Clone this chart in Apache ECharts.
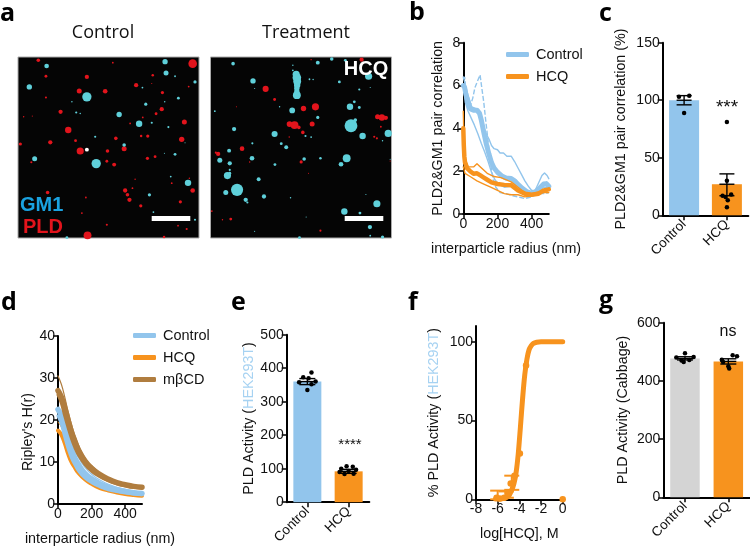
<!DOCTYPE html>
<html><head><meta charset="utf-8">
<style>html,body{margin:0;padding:0;background:#fff}#c{width:750px;height:547px}</style>
<script src="https://cdn.jsdelivr.net/npm/echarts@6/dist/echarts.min.js"></script>
</head><body><div id="c"></div>
<script>
// ---------- panel a : spots [x, y, diameter]
const ctrlRed=[[578,190,24],[114,180,10],[137,228,8],[260,230,12],[237,272,14],[315,273,13],[408,255,12],[458,225,7],[137,292,6],[487,277,9],[566,259,5],[181,335,12],[485,327,12],[204,390,18],[468,341,8],[553,366,14],[390,370,5],[428,352,5],[347,415,10],[150,427,12],[226,422,8],[60,432,9],[423,408,7],[443,408,9],[545,418,15],[240,453,20],[372,446,14],[322,453,10],[465,470,8],[442,475,9],[320,484,8],[342,494,11],[93,487,6],[375,572,12],[382,585,10],[388,600,12],[397,565,5],[578,572,13],[422,618,9],[541,606,9],[142,578,10],[257,593,5],[262,707,22],[560,688,6],[534,678,5],[320,675,6],[245,640,5],[515,550,5],[492,712,7],[405,538,4],[568,535,4],[70,350,4],[96,348,3],[338,187,5],[455,250,3]];
const ctrlCyan=[[139,197,13],[87,260,15],[495,184,15],[498,218,14],[585,245,9],[260,290,26],[437,312,9],[535,294,8],[228,337,6],[357,343,15],[417,371,18],[455,368,6],[505,381,6],[285,410,6],[372,435,10],[103,476,14],[525,463,8],[288,491,26],[564,549,18],[448,585,9],[512,530,5],[460,637,5],[200,714,8],[494,305,4],[427,262,5],[525,228,5],[555,428,3],[493,460,3],[240,340,4],[215,305,4],[585,660,6]];
const ctrlWhite=[[260,449,11]];
const treatCyan=[[700,190,10],[955,187,11],[997,176,10],[1038,180,8],[760,242,15],[1108,228,20],[1020,245,8],[880,195,4],[880,210,5],[930,237,5],[941,238,4],[1080,268,6],[765,265,3],[1113,262,3],[890,222,20],[892,232,24],[893,243,22],[893,254,18],[892,264,15],[892,274,15],[892,285,22],[1052,320,18],[1065,305,8],[1080,322,8],[878,331,16],[955,352,9],[645,333,5],[840,320,4],[1055,377,36],[1068,360,10],[703,387,12],[1090,408,18],[1167,400,20],[825,402,17],[918,408,6],[935,411,5],[758,430,6],[845,431,8],[860,442,11],[688,452,11],[757,475,13],[660,481,14],[690,490,12],[690,510,6],[826,494,8],[914,477,10],[963,475,7],[1042,475,22],[1025,493,13],[683,527,20],[690,520,8],[777,538,11],[712,570,34],[678,578,14],[738,600,12],[743,608,6],[793,590,12],[873,594,4],[1133,612,20],[1035,635,18],[1082,640,8],[1112,682,12],[1150,712,9],[900,714,8],[1113,708,5],[765,695,3],[920,652,3],[1100,584,3],[1150,422,4],[1173,478,3]];
const treatRed=[[798,266,17],[825,298,8],[912,325,15],[948,320,20],[885,375,22],[870,372,16],[898,382,10],[938,372,14],[910,397,10],[869,411,4],[727,446,13],[655,462,12],[648,458,6],[905,486,9],[750,486,4],[693,658,8],[668,660,4],[636,634,5],[963,693,6],[1148,352,18],[1135,350,14],[1160,353,12],[1125,410,6],[1133,415,6],[1145,380,5],[1087,178,12],[935,178,4],[710,320,3],[927,520,3],[1173,483,3]];
// ---------- panel b : pair correlation
const bCtrlMean=[[0,6],[8,5.9],[15,5.6],[25,5.3],[35,5.0],[45,4.9],[60,4.85],[80,4.85],[95,4.7],[105,4.4],[120,3.8],[135,3.25],[150,2.8],[165,2.4],[180,2.15],[200,1.95],[225,1.78],[250,1.68],[280,1.66],[300,1.55],[320,1.38],[345,1.2],[370,1.05],[395,0.98],[420,1.02],[445,1.2],[470,1.4],[485,1.42],[500,1.3]];
const bCtrlDash=[[0,6.3],[8,6.4],[15,5.8],[28,5.4],[42,5.1],[55,5.4],[68,5.9],[85,6.25],[98,6.5],[108,5.9],[120,5.2],[132,4.3],[142,3.6],[152,2.9],[162,2.2],[175,1.6],[190,1.25],[215,1.0],[250,0.95],[290,0.85],[330,0.78],[360,0.72],[390,0.78],[420,0.88],[450,0.95],[480,0.95],[500,1.0]];
const bCtrlUp=[[0,6.4],[10,6.1],[25,5.6],[50,5.0],[80,4.9],[110,4.4],[130,3.8],[150,3.5],[165,3.2],[180,3.05],[200,3.0],[215,2.85],[235,2.85],[255,2.7],[280,2.7],[300,2.45],[320,2.15],[340,1.85],[360,1.55],[380,1.3],[400,1.1],[420,1.1],[440,1.45],[460,1.8],[475,1.92],[490,1.8],[500,1.65]];
const bCtrlLow=[[0,6.0],[12,5.2],[28,4.8],[45,4.5],[65,4.15],[85,3.75],[105,3.3],[125,2.9],[145,2.45],[165,1.95],[185,1.6],[205,1.4],[240,1.25],[280,1.3],[320,1.15],[360,1.0],[400,0.95],[440,1.1],[470,1.25],[500,1.25]];
const bHcqMean=[[0,4.0],[3,3.2],[6,2.7],[10,2.4],[20,2.15],[40,2.0],[60,1.88],[80,1.9],[100,1.8],[120,1.7],[140,1.6],[165,1.48],[200,1.4],[240,1.36],[280,1.34],[320,1.1],[360,0.95],[400,0.9],[440,0.95],[470,1.1],[500,1.15]];
const bHcqUp=[[0,4.8],[4,3.4],[10,2.6],[30,2.2],[60,2.2],[80,2.35],[100,2.2],[140,1.9],[180,1.75],[220,1.7],[280,1.5],[320,1.25],[360,1.0],[400,0.95],[450,1.05],[500,1.2]];
const bHcqLow=[[0,2.2],[10,1.9],[40,1.75],[80,1.55],[120,1.4],[160,1.25],[200,1.1],[240,0.95],[280,0.9],[320,0.9],[360,0.8],[400,0.85],[450,1.0],[500,1.0]];
// ---------- panel c
const barCats=['Control','HCQ'];
const cMeans=[100,27];
const cErr=[[0,96,104,100],[1,17,36,27]];
const cDots=[[-0.12,103],[0.12,104],[0,89],[1,81],[1,30],[0.9,17],[1.1,18],[0.97,16],[1.02,13],[1,7]];
// ---------- panel d : Ripley's H(r)
const dR=[0,20,40,60,80,100,120,160,200,250,300,350,400,450,500];
const dBrown=[27,25.5,23,20,17.2,15,13,10.3,8.5,7,5.9,5.1,4.6,4.2,4];
const dBrownUp=[30.5,28.5,25.5,22,19,16.3,14.2,11,9.1,7.4,6.2,5.4,4.8,4.4,4.1];
const dBrownLow=[26,24,21,18.2,15.6,13.5,11.8,9.4,7.8,6.5,5.5,4.8,4.3,4,3.8];
const dBlue=[22.5,21,18.5,15.5,13,11,9.5,7.3,6,4.8,4,3.4,3,2.7,2.5];
const dBlueUp=[27.5,25,21.5,18.2,15.2,13,11.2,8.7,7.1,5.7,4.7,4,3.5,3.1,2.9];
const dBlueLow=[21,19,16,13.2,11,9.4,8,6.2,5.1,4.1,3.4,2.95,2.6,2.35,2.2];
const dOrange=[17.5,16.5,14.5,12,10,8.7,7.5,5.9,4.8,3.8,3.2,2.75,2.4,2.15,1.95];
const dOrangeUp=[19.5,18.3,16,13.2,11,9.4,8,6.2,5.1,4.1,3.4,2.9,2.6,2.3,2.1];
// ---------- panel e
const eMeans=[360,92];
const eErr=[[0,351,369,360],[1,86,98,92]];
const eDots=[[0.1,387],[-0.1,373],[0.03,370],[-0.2,358],[0.2,360],[0.1,352],[0,335],[-0.05,107],[0.1,106],[-0.18,100],[0.18,97],[0,93],[-0.1,84],[0.12,85],[-0.22,90]];
// ---------- panel f : dose response
const fCurve=[[-6.2,0.2],[-5.5,0.5],[-5,2],[-4.7,6],[-4.5,10],[-4.3,17],[-4.1,29],[-3.9,46],[-3.7,64],[-3.5,79],[-3.3,89],[-3.1,95],[-2.9,97.5],[-2.7,99],[-2.4,99.7],[-2,100],[-1,100],[0,100]];
const fPoints=[[-6.1,1],[-5.8,0.5],[-5.4,1],[-5.1,4],[-4.8,10],[-4.45,15],[-3.95,29],[-3.38,85],[0,0]];
const fErr=[[-6,0,5.5],[-5.2,1,5],[-4.7,6,15]];
// ---------- panel g
const gMeans=[477,467];
const gErr=[[0,472,483,477],[1,458,476,467]];
const gDots=[[0,495],[-0.2,480],[0.2,482],[-0.08,470],[0.1,472],[-0.03,465],[0.2,485],[-0.15,473],[0.1,488],[0,450],[0.02,443],[-0.12,465]];
const gDotsX=[0,0,0,0,0,0,1,1,1,1,1,1];

const blue='#92c5ec',orange='#f7931e',brown='#b07d3f',grey='#d4d4d4',ink='#111';
const F='"Liberation Sans",Arial,sans-serif', H='"Open Sans",sans-serif';
const G=[
 {left:18,top:57,width:181,height:181},
 {left:210.5,top:57,width:181,height:181},
 {left:463.3,top:42.7,width:85.5,height:171.3},
 {left:662.7,top:42.7,width:85.6,height:172.6},
 {left:58,top:336,width:84,height:168.3},
 {left:286.7,top:334.7,width:82.6,height:169.3},
 {left:476,top:326,width:86.7,height:173.3},
 {left:663.3,top:322.7,width:86.7,height:174.6}
].map((g,i)=>i<2?Object.assign(g,{show:true,backgroundColor:'#050505',borderColor:'#aaa',borderWidth:1}):g);

const lbl={color:ink,fontFamily:F,fontSize:14,margin:3};
const name={color:ink,fontFamily:F,fontSize:14.3};
const ln={show:true,onZero:false,lineStyle:{color:'#000',width:2}};
const tk={show:true,length:5,lineStyle:{color:'#000',width:1.5}};
function valAxis(grid,min,max,ticks,extra){
 return Object.assign({type:'value',gridIndex:grid,min,max,splitLine:{show:false},axisLine:ln,
  axisTick:Object.assign({},tk,{customValues:ticks}),
  axisLabel:Object.assign({},lbl,{customValues:ticks}),
  nameLocation:'middle',nameTextStyle:name},extra||{});
}
function catAxis(grid){
 return {type:'category',gridIndex:grid,data:barCats,axisLine:ln,
  axisTick:Object.assign({},tk,{alignWithLabel:true}),
  axisLabel:Object.assign({},lbl,{rotate:45,interval:0,margin:7,fontSize:13.5})};
}
function hidden(grid,min,max,inverse){return {type:'value',gridIndex:grid,min,max,inverse:!!inverse,show:false,splitLine:{show:false}};}
const xAxis=[
 hidden(0,53,597),hidden(1,632,1177),
 valAxis(2,0,500,[0,200,400],{name:'interparticle radius (nm)',nameGap:28}),
 catAxis(3),
 valAxis(4,0,500,[0,200,400],{name:'interparticle radius (nm)',nameGap:28}),
 catAxis(5),
 valAxis(6,-8,0,[-8,-6,-4,-2,0],{name:'log[HCQ], M',nameGap:28}),
 catAxis(7),
 hidden(3,-0.5,1.5),hidden(5,-0.5,1.5),hidden(7,-0.5,1.5)
];
const yAxis=[
 hidden(0,170,715,true),hidden(1,170,715,true),
 valAxis(2,0,8,[0,2,4,6,8],{name:'PLD2&GM1 pair correlation',nameGap:18}),
 valAxis(3,0,150,[0,50,100,150],{name:'PLD2&GM1 pair correlation (%)',nameGap:35}),
 valAxis(4,0,40,[0,10,20,30,40]),
 valAxis(5,0,500,[0,100,200,300,400,500],{
   name:'{a|PLD Activity (}{b|HEK293T}{a|)}',nameGap:31,
   nameTextStyle:{rich:{a:name,b:Object.assign({},name,{color:'#a6d2f2'})}}}),
 valAxis(6,0,110,[0,50,100],{
   name:'{a|% PLD Activity (}{b|HEK293T}{a|)}',nameGap:35,
   nameTextStyle:{rich:{a:name,b:Object.assign({},name,{color:'#a6d2f2'})}}}),
 valAxis(7,0,600,[0,200,400,600],{name:'PLD Activity (Cabbage)',nameGap:33})
];
function spots(data,color,g,z){return {type:'scatter',xAxisIndex:g,yAxisIndex:g,data,symbol:'circle',symbolSize:v=>v[2]/2.8,itemStyle:{color,opacity:1},z:z||3,silent:true,clip:true};}
function line(nm,data,color,width,g,z,extra){return Object.assign({type:'line',name:nm,xAxisIndex:g,yAxisIndex:g,data,color,showSymbol:false,symbol:'none',clip:false,silent:true,z:z,
  lineStyle:{color,width,cap:'round',join:'round'},itemStyle:{color}},extra||{});}
function bars(vals,colors,g,width){return {type:'bar',xAxisIndex:g,yAxisIndex:g,barWidth:width,silent:true,z:2,
  data:vals.map((v,i)=>({value:v,itemStyle:{color:colors[i]}}))};}
function dots(data,xi,yi,size){return {type:'scatter',xAxisIndex:xi,yAxisIndex:yi,data,symbolSize:size||4.5,itemStyle:{color:'#000',opacity:1},z:6,silent:true};}
function errs(data,xi,yi,half,color,w){return {type:'custom',xAxisIndex:xi,yAxisIndex:yi,data,z:5,silent:true,clip:false,
 renderItem(p,api){
  const x=api.value(0),lo=api.coord([x,api.value(1)]),hi=api.coord([x,api.value(2)]);
  const st={stroke:color,lineWidth:w};
  const c=[{type:'line',shape:{x1:lo[0],y1:lo[1],x2:hi[0],y2:hi[1]},style:st},
   {type:'line',shape:{x1:lo[0]-half,y1:lo[1],x2:lo[0]+half,y2:lo[1]},style:st},
   {type:'line',shape:{x1:hi[0]-half,y1:hi[1],x2:hi[0]+half,y2:hi[1]},style:st}];
  if(data[p.dataIndex].length>3){const m=api.coord([x,api.value(3)]);c.push({type:'line',shape:{x1:m[0]-half,y1:m[1],x2:m[0]+half,y2:m[1]},style:st});}
  return {type:'group',children:c};
 }};}
const pair=(xs,ys)=>xs.map((x,i)=>[x,ys[i]]);
const series=[
 spots(ctrlRed,'#e2141c',0),spots(ctrlCyan,'#5fd0da',0),spots(ctrlWhite,'#ffffff',0,4),
 spots(treatCyan,'#5fd0da',1),spots(treatRed,'#e2141c',1),
 line('Control dashed',bCtrlDash,blue,1.4,2,3,{lineStyle:{color:blue,width:1.4,type:[5,2]}}),
 line('Control upper',bCtrlUp,blue,1.4,2,3),line('Control lower',bCtrlLow,blue,1.4,2,3),
 line('Control',bCtrlMean,blue,5,2,4),
 line('HCQ upper',bHcqUp,orange,1.4,2,5),line('HCQ lower',bHcqLow,orange,1.4,2,5),
 line('HCQ',bHcqMean,orange,4.5,2,6),
 bars(cMeans,[blue,orange],3,30),errs(cErr,8,3,7.5,'#000',1.4),dots(cDots,8,3),
 line('HCQ upper d',pair(dR,dOrangeUp),orange,1,4,3,{smooth:true}),
 line('HCQ',pair(dR,dOrange),orange,4,4,4,{smooth:true}),
 line('Control upper d',pair(dR,dBlueUp),blue,1.2,4,5,{smooth:true}),
 line('Control lower d',pair(dR,dBlueLow),blue,3,4,5,{smooth:true}),
 line('Control',pair(dR,dBlue),blue,5.5,4,6,{smooth:true}),
 line('brown upper',pair(dR,dBrownUp),brown,1.2,4,7,{smooth:true}),
 line('brown lower',pair(dR,dBrownLow),brown,3,4,7,{smooth:true}),
 line('mβCD',pair(dR,dBrown),brown,5.5,4,8,{smooth:true}),
 bars(eMeans,[blue,orange],5,28),errs(eErr,9,5,8,'#000',1.4),
 dots(eDots.slice(0,7),9,5),dots(eDots.slice(7).map(d=>[1+d[0],d[1]]),9,5),
 line('fit',fCurve,orange,5,6,4,{smooth:0.3}),
 errs(fErr,6,6,7.5,orange,2),
 {type:'scatter',xAxisIndex:6,yAxisIndex:6,data:fPoints,symbolSize:6.5,itemStyle:{color:orange,opacity:1},z:5,silent:true,clip:false},
 bars(gMeans,[grey,orange],7,29.5),errs(gErr,10,7,8,'#000',1.4),
 dots(gDots.map((d,i)=>[gDotsX[i]+d[0],d[1]]),10,7)
];
function txt(text,x,y,o){return {type:'text',x,y,silent:true,z:50,rotation:(o&&o.rot)||0,
 style:{text,fontFamily:(o&&o.ff)||F,fontSize:(o&&o.size)||15,fontWeight:(o&&o.w)||'normal',fill:(o&&o.c)||ink,align:(o&&o.align)||'center',verticalAlign:'middle'}};}
const L={ff:H,size:25,w:'bold',align:'left',c:'#000'};
const graphic=[
 txt('a',0,14,L),txt('b',409,13,L),txt('c',599,14,L),txt('d',1,303,L),
 txt('e',231,303,L),txt('f',408,303,L),txt('g',599,301,L),
 txt('Control',103,33,{ff:H,size:18}),txt('Treatment',306,33,{ff:H,size:18}),
 txt('GM1',20,205,{size:20,w:'bold',c:'#1aa2e0',align:'left'}),txt('PLD',23,227,{size:20,w:'bold',c:'#e2141c',align:'left'}),
 txt('HCQ',366,69,{size:20,w:'bold',c:'#fff'}),
 {type:'rect',silent:true,z:50,shape:{x:151.7,y:216,width:38.6,height:5},style:{fill:'#fff'}},
 {type:'rect',silent:true,z:50,shape:{x:344.7,y:216,width:38.6,height:5},style:{fill:'#fff'}},
 txt('***',727,108,{size:19}),txt('****',350,445,{size:15}),txt('ns',728,332,{size:16}),
 txt("Ripley's H(r)",28,432,{rot:Math.PI/2,size:14.3})
];
const legendBase={orient:'vertical',selectedMode:false,icon:'roundRect',itemWidth:23,itemHeight:5,
  textStyle:{color:ink,fontFamily:F,fontSize:14.5,padding:[0,0,0,2]},padding:0};
const chart=echarts.init(document.getElementById('c'),null,{renderer:'canvas'});
chart.setOption({animation:false,backgroundColor:'#fff',grid:G,xAxis,yAxis,series,graphic,
 legend:[Object.assign({},legendBase,{left:506,top:47,itemGap:7,data:['Control','HCQ']}),
         Object.assign({},legendBase,{left:133,top:328,itemGap:7,data:['Control','HCQ','mβCD']})]});
</script></body></html>
